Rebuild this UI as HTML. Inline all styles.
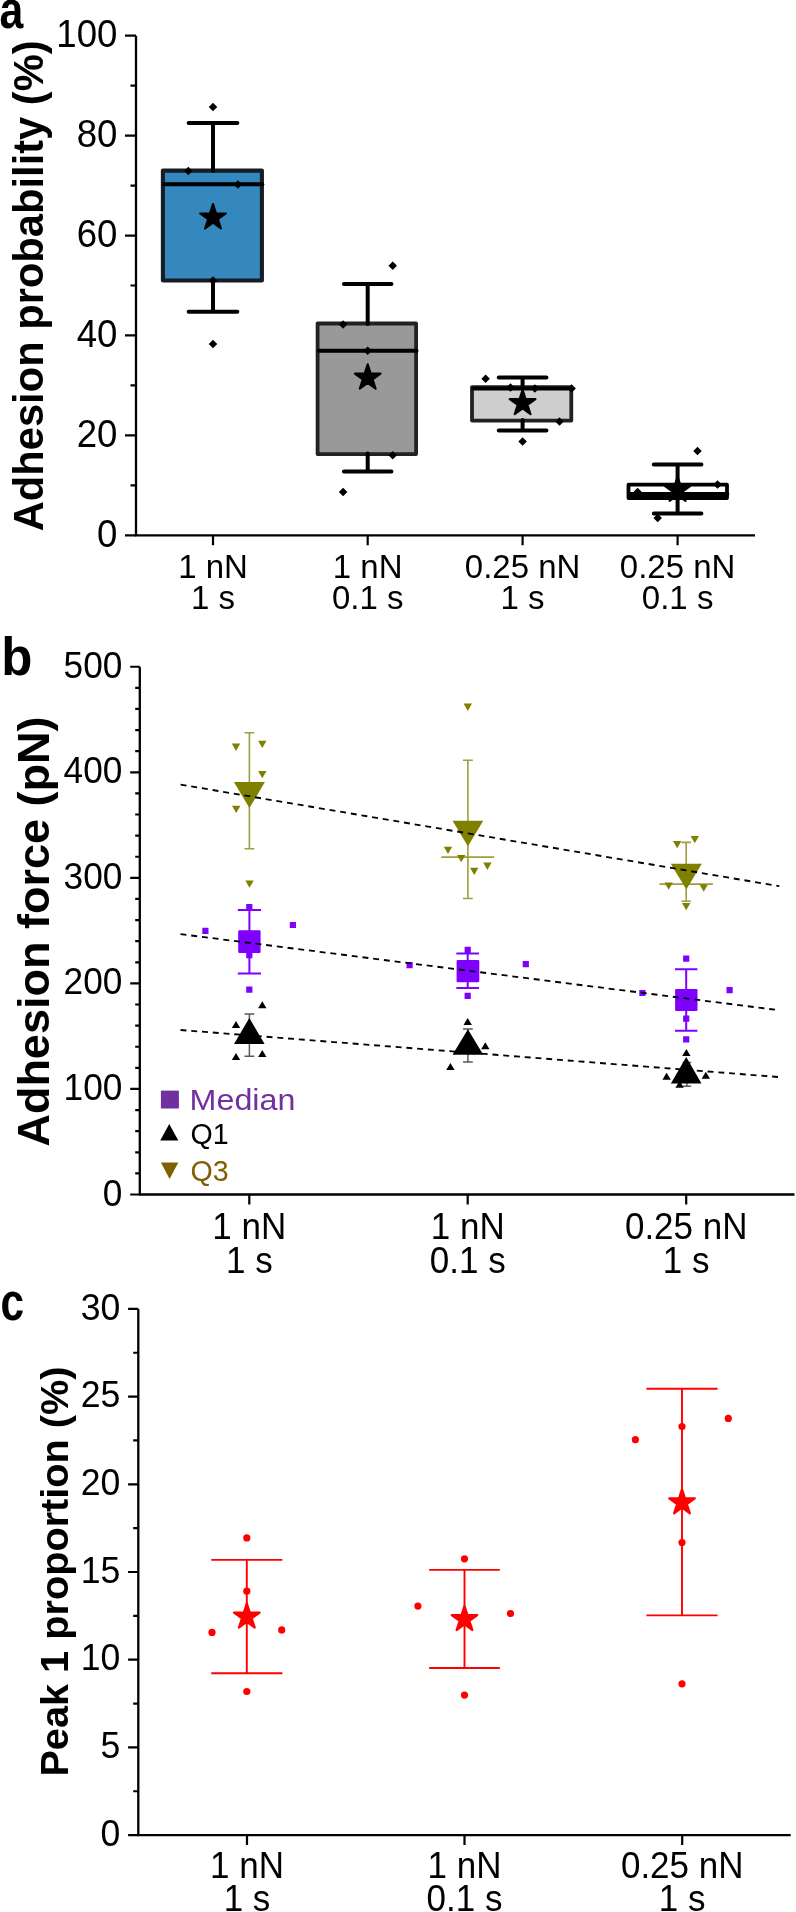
<!DOCTYPE html><html><head><meta charset="utf-8"><style>html,body{margin:0;padding:0;background:#fff;}svg{display:block;will-change:transform;}text{font-family:"Liberation Sans",sans-serif;}</style></head><body>
<svg width="796" height="1912" viewBox="0 0 796 1912">
<rect width="796" height="1912" fill="#fff"/>
<g id="pa">
<path d="M136.0,35.70V535.30H755" fill="none" stroke="#000" stroke-width="2.3"/>
<path d="M125,535.30H136.0M125,435.38H136.0M125,335.46H136.0M125,235.54H136.0M125,135.62H136.0M125,35.70H136.0M130.5,485.34H136.0M130.5,385.42H136.0M130.5,285.50H136.0M130.5,185.58H136.0M130.5,85.66H136.0M213.0,535.30V545.3M367.7,535.30V545.3M522.6,535.30V545.3M677.6,535.30V545.3" stroke="#000" stroke-width="2.2" fill="none"/>
<text transform="translate(117.4,546.60) scale(1,1.04)" font-size="36.6" text-anchor="end">0</text>
<text transform="translate(117.4,446.68) scale(1,1.04)" font-size="36.6" text-anchor="end">20</text>
<text transform="translate(117.4,346.76) scale(1,1.04)" font-size="36.6" text-anchor="end">40</text>
<text transform="translate(117.4,246.84) scale(1,1.04)" font-size="36.6" text-anchor="end">60</text>
<text transform="translate(117.4,146.92) scale(1,1.04)" font-size="36.6" text-anchor="end">80</text>
<text transform="translate(117.4,47.00) scale(1,1.04)" font-size="36.6" text-anchor="end">100</text>
<text transform="translate(213.0,577.6) scale(1,1.035)" font-size="33" text-anchor="middle">1 nN</text>
<text transform="translate(213.0,608.9) scale(1,1.035)" font-size="33" text-anchor="middle">1 s</text>
<text transform="translate(367.7,577.6) scale(1,1.035)" font-size="33" text-anchor="middle">1 nN</text>
<text transform="translate(367.7,608.9) scale(1,1.035)" font-size="33" text-anchor="middle">0.1 s</text>
<text transform="translate(522.6,577.6) scale(1,1.035)" font-size="33" text-anchor="middle">0.25 nN</text>
<text transform="translate(522.6,608.9) scale(1,1.035)" font-size="33" text-anchor="middle">1 s</text>
<text transform="translate(677.6,577.6) scale(1,1.035)" font-size="33" text-anchor="middle">0.25 nN</text>
<text transform="translate(677.6,608.9) scale(1,1.035)" font-size="33" text-anchor="middle">0.1 s</text>
<text transform="translate(42.8,531.3) rotate(-90)" font-size="41.7" font-weight="bold">Adhesion probability (%)</text>
<text transform="translate(-0.6,28.4) scale(0.93,1.16)" font-size="46" font-weight="bold">a</text>
<rect x="162.9" y="170.6" width="98.99999999999997" height="109.9" fill="#3488BE" stroke="#161d24" stroke-width="4.1" stroke-linejoin="round"/><path d="M213.0,123.1V171.1M213.0,280.0V311.7M188.65,123.1H237.35M188.65,311.7H237.35" stroke="#000" stroke-width="4" stroke-linecap="round" fill="none"/><path d="M164.3,184.3H262.29999999999995" stroke="#000" stroke-width="4" stroke-linecap="round"/><polygon points="213.00,204.10 216.03,213.43 225.84,213.43 217.90,219.19 220.94,228.52 213.00,222.76 205.06,228.52 208.10,219.19 200.16,213.43 209.97,213.43" fill="#000" stroke="#000" stroke-width="2.1" stroke-linejoin="round"/><path d="M213.00,102.65L217.25,106.90L213.00,111.15L208.75,106.90ZM188.30,166.85L192.55,171.10L188.30,175.35L184.05,171.10ZM237.90,180.35L242.15,184.60L237.90,188.85L233.65,184.60ZM213.00,276.25L217.25,280.50L213.00,284.75L208.75,280.50ZM213.00,339.65L217.25,343.90L213.00,348.15L208.75,343.90Z" fill="#000"/>
<rect x="317.6" y="323.5" width="98.5" height="130.60000000000002" fill="#999999" stroke="#222" stroke-width="3.8" stroke-linejoin="round"/><path d="M367.7,283.9V324.0M367.7,453.6V471.5M343.95,283.9H391.45M343.95,471.5H391.45" stroke="#000" stroke-width="4" stroke-linecap="round" fill="none"/><path d="M319.0,350.8H416.5" stroke="#000" stroke-width="4" stroke-linecap="round"/><polygon points="367.70,364.30 370.73,373.63 380.54,373.63 372.60,379.39 375.64,388.72 367.70,382.96 359.76,388.72 362.80,379.39 354.86,373.63 364.67,373.63" fill="#000" stroke="#000" stroke-width="2.1" stroke-linejoin="round"/><path d="M392.70,261.55L396.95,265.80L392.70,270.05L388.45,265.80ZM343.10,320.15L347.35,324.40L343.10,328.65L338.85,324.40ZM367.70,346.55L371.95,350.80L367.70,355.05L363.45,350.80ZM392.70,451.05L396.95,455.30L392.70,459.55L388.45,455.30ZM343.10,487.65L347.35,491.90L343.10,496.15L338.85,491.90Z" fill="#000"/>
<rect x="472.0" y="387.1" width="99.29999999999995" height="33.5" fill="#CECECE" stroke="#222" stroke-width="3.8" stroke-linejoin="round"/><path d="M522.6,377.6V387.6M522.6,420.1V430.4M498.75,377.6H546.45M498.75,430.4H546.45" stroke="#000" stroke-width="4" stroke-linecap="round" fill="none"/><path d="M473.4,388.6H571.6999999999999" stroke="#000" stroke-width="4" stroke-linecap="round"/><polygon points="522.60,389.80 525.63,399.13 535.44,399.13 527.50,404.89 530.54,414.22 522.60,408.46 514.66,414.22 517.70,404.89 509.76,399.13 519.57,399.13" fill="#000" stroke="#000" stroke-width="2.1" stroke-linejoin="round"/><path d="M485.60,374.55L489.85,378.80L485.60,383.05L481.35,378.80ZM510.50,383.35L514.75,387.60L510.50,391.85L506.25,387.60ZM534.90,384.35L539.15,388.60L534.90,392.85L530.65,388.60ZM571.60,384.35L575.85,388.60L571.60,392.85L567.35,388.60ZM559.50,417.25L563.75,421.50L559.50,425.75L555.25,421.50ZM522.60,437.15L526.85,441.40L522.60,445.65L518.35,441.40Z" fill="#000"/>
<rect x="628.5" y="484.7" width="98.5" height="13.300000000000011" fill="#FFFFFF" stroke="#000" stroke-width="3.8" stroke-linejoin="round"/><path d="M677.6,464.6V485.2M677.6,497.5V513.4M653.8000000000001,464.6H701.4M653.8000000000001,513.4H701.4" stroke="#000" stroke-width="4" stroke-linecap="round" fill="none"/><path d="M629.9,494.0H727.4" stroke="#000" stroke-width="4" stroke-linecap="round"/><polygon points="677.60,476.50 680.63,485.83 690.44,485.83 682.50,491.59 685.54,500.92 677.60,495.16 669.66,500.92 672.70,491.59 664.76,485.83 674.57,485.83" fill="#000" stroke="#000" stroke-width="2.1" stroke-linejoin="round"/><path d="M697.50,446.75L701.75,451.00L697.50,455.25L693.25,451.00ZM717.50,480.25L721.75,484.50L717.50,488.75L713.25,484.50ZM637.60,487.75L641.85,492.00L637.60,496.25L633.35,492.00ZM657.70,513.85L661.95,518.10L657.70,522.35L653.45,518.10Z" fill="#000"/>
</g>
<g id="pb">
<path d="M139.8,666.75V1194.50H794.5" fill="none" stroke="#000" stroke-width="2.3"/>
<path d="M130.2,1194.50H139.8M130.2,1088.95H139.8M130.2,983.40H139.8M130.2,877.85H139.8M130.2,772.30H139.8M130.2,666.75H139.8M135.2,1173.39H139.8M135.2,1152.28H139.8M135.2,1131.17H139.8M135.2,1110.06H139.8M135.2,1067.84H139.8M135.2,1046.73H139.8M135.2,1025.62H139.8M135.2,1004.51H139.8M135.2,962.29H139.8M135.2,941.18H139.8M135.2,920.07H139.8M135.2,898.96H139.8M135.2,856.74H139.8M135.2,835.63H139.8M135.2,814.52H139.8M135.2,793.41H139.8M135.2,751.19H139.8M135.2,730.08H139.8M135.2,708.97H139.8M135.2,687.86H139.8M249.3,1194.50V1204.5M467.7,1194.50V1204.5M686.2,1194.50V1204.5" stroke="#000" stroke-width="2.2" fill="none"/>
<text transform="translate(122.3,1205.50) scale(1,1.06)" font-size="35.2" text-anchor="end">0</text>
<text transform="translate(122.3,1099.95) scale(1,1.06)" font-size="35.2" text-anchor="end">100</text>
<text transform="translate(122.3,994.40) scale(1,1.06)" font-size="35.2" text-anchor="end">200</text>
<text transform="translate(122.3,888.85) scale(1,1.06)" font-size="35.2" text-anchor="end">300</text>
<text transform="translate(122.3,783.30) scale(1,1.06)" font-size="35.2" text-anchor="end">400</text>
<text transform="translate(122.3,677.75) scale(1,1.06)" font-size="35.2" text-anchor="end">500</text>
<text transform="translate(249.3,1239.4) scale(1,1.045)" font-size="35" text-anchor="middle">1 nN</text>
<text transform="translate(249.3,1273.0) scale(1,1.045)" font-size="35" text-anchor="middle">1 s</text>
<text transform="translate(467.7,1239.4) scale(1,1.045)" font-size="35" text-anchor="middle">1 nN</text>
<text transform="translate(467.7,1273.0) scale(1,1.045)" font-size="35" text-anchor="middle">0.1 s</text>
<text transform="translate(686.2,1239.4) scale(1,1.045)" font-size="35" text-anchor="middle">0.25 nN</text>
<text transform="translate(686.2,1273.0) scale(1,1.045)" font-size="35" text-anchor="middle">1 s</text>
<text transform="translate(49.4,1146.6) rotate(-90)" font-size="45" font-weight="bold">Adhesion force (pN)</text>
<text transform="translate(1.3,675.3) scale(1.02,1.09)" font-size="50" font-weight="bold">b</text>
<path d="M249.4,732.8V848.7M244.5,732.8H254.3M244.5,848.7H254.3" stroke="#9C9E40" stroke-width="1.6" fill="none"/>
<path d="M233.90,782.10L264.90,782.10L249.40,808.10Z" fill="#808000"/>
<path d="M231.80,743.60L240.20,743.60L236.00,750.90ZM258.10,740.70L266.50,740.70L262.30,748.00ZM258.10,770.90L266.50,770.90L262.30,778.20ZM232.00,805.80L240.40,805.80L236.20,813.10ZM245.30,880.40L253.70,880.40L249.50,887.70Z" fill="#808000"/>
<path d="M249.4,910.0V973.6M237.8,910.0H261.0M237.8,973.6H261.0" stroke="#8000FF" stroke-width="2.0" fill="none"/>
<rect x="238.2" y="930.3" width="22.4" height="22.6" rx="1.2" fill="#8000FF"/>
<path d="M246.20,904.00h6.2v6.2h-6.2ZM246.20,952.10h6.2v6.2h-6.2ZM202.30,927.70h6.2v6.2h-6.2ZM289.80,921.90h6.2v6.2h-6.2ZM246.20,986.50h6.2v6.2h-6.2Z" fill="#8000FF"/>
<path d="M249.4,1013.9V1056.3M244.5,1013.9H254.3M244.5,1056.3H254.3" stroke="#5a5a5a" stroke-width="1.5" fill="none"/>
<path d="M249.30,1017.90L264.60,1044.10L234.00,1044.10Z" fill="#000"/>
<path d="M262.30,1001.30L266.50,1008.30L258.10,1008.30ZM236.00,1021.10L240.20,1028.10L231.80,1028.10ZM262.30,1049.90L266.50,1056.90L258.10,1056.90ZM236.00,1053.10L240.20,1060.10L231.80,1060.10Z" fill="#000"/>
<path d="M467.9,760.3V898.5M463.0,760.3H472.79999999999995M463.0,898.5H472.79999999999995" stroke="#9C9E40" stroke-width="1.6" fill="none"/>
<path d="M441.3,857.1H494.2" stroke="#9C9E40" stroke-width="1.6"/>
<path d="M452.55,820.70L483.25,820.70L467.90,846.20Z" fill="#808000"/>
<path d="M463.60,703.60L472.00,703.60L467.80,710.90ZM443.80,846.70L452.20,846.70L448.00,854.00ZM457.00,855.00L465.40,855.00L461.20,862.30ZM470.00,867.80L478.40,867.80L474.20,875.10ZM483.20,862.60L491.60,862.60L487.40,869.90Z" fill="#808000"/>
<path d="M467.7,953.5V988.1M456.34999999999997,953.5H479.05M456.34999999999997,988.1H479.05" stroke="#8000FF" stroke-width="2.0" fill="none"/>
<rect x="456.6" y="959.9" width="22.7" height="22.4" rx="1.2" fill="#8000FF"/>
<path d="M464.60,946.80h6.2v6.2h-6.2ZM464.60,992.70h6.2v6.2h-6.2ZM406.50,962.10h6.2v6.2h-6.2ZM522.70,961.10h6.2v6.2h-6.2Z" fill="#8000FF"/>
<path d="M467.9,1028.9V1061.9M463.0,1028.9H472.79999999999995M463.0,1061.9H472.79999999999995" stroke="#5a5a5a" stroke-width="1.5" fill="none"/>
<path d="M467.90,1029.30L483.25,1054.70L452.55,1054.70Z" fill="#000"/>
<path d="M467.70,1018.00L471.90,1025.00L463.50,1025.00ZM485.30,1042.20L489.50,1049.20L481.10,1049.20ZM450.40,1063.00L454.60,1070.00L446.20,1070.00Z" fill="#000"/>
<path d="M686.2,842.4V901.2M681.45,842.4H690.95M681.45,901.2H690.95" stroke="#9C9E40" stroke-width="1.6" fill="none"/>
<path d="M659.5,884.1H712.9" stroke="#9C9E40" stroke-width="1.6"/>
<path d="M670.80,863.80L701.80,863.80L686.30,889.40Z" fill="#808000"/>
<path d="M673.00,840.90L681.40,840.90L677.20,848.20ZM690.60,836.00L699.00,836.00L694.80,843.30ZM664.50,882.40L672.90,882.40L668.70,889.70ZM699.50,884.50L707.90,884.50L703.70,891.80ZM682.00,902.90L690.40,902.90L686.20,910.20Z" fill="#808000"/>
<path d="M686.2,969.3V1030.8M675.0,969.3H697.4000000000001M675.0,1030.8H697.4000000000001" stroke="#8000FF" stroke-width="2.0" fill="none"/>
<rect x="675.1" y="989.1" width="22.4" height="21.8" rx="1.2" fill="#8000FF"/>
<path d="M683.10,955.50h6.2v6.2h-6.2ZM683.10,1015.50h6.2v6.2h-6.2ZM683.10,1036.20h6.2v6.2h-6.2ZM639.30,989.90h6.2v6.2h-6.2ZM726.50,987.10h6.2v6.2h-6.2Z" fill="#8000FF"/>
<path d="M686.9,1062.6V1086.2M682.65,1062.6H691.15M682.65,1086.2H691.15" stroke="#5a5a5a" stroke-width="1.5" fill="none"/>
<path d="M686.20,1057.10L701.50,1083.40L670.90,1083.40Z" fill="#000"/>
<path d="M686.40,1049.00L690.60,1056.00L682.20,1056.00ZM666.60,1072.70L670.80,1079.70L662.40,1079.70ZM705.80,1071.70L710.00,1078.70L701.60,1078.70ZM679.60,1080.80L683.80,1087.80L675.40,1087.80Z" fill="#000"/>
<path d="M180.6,784.6L779.3,886.2" stroke="#000" stroke-width="1.85" stroke-dasharray="5.95 4.84" fill="none"/>
<path d="M180.5,934.1L775.0,1009.7" stroke="#000" stroke-width="1.85" stroke-dasharray="5.95 4.84" fill="none"/>
<path d="M180.5,1030.0L778.0,1077.0" stroke="#000" stroke-width="1.85" stroke-dasharray="5.95 4.84" fill="none"/>
<rect x="160.9" y="1090.6" width="18" height="17.9" fill="#7030A0"/>
<text x="189.6" y="1109.8" font-size="28.8" fill="#7030A0" textLength="105.8" lengthAdjust="spacingAndGlyphs">Median</text>
<path d="M169.25,1124.10L178.30,1140.60L160.20,1140.60Z" fill="#000"/>
<text x="190.5" y="1144.4" font-size="28.6" fill="#000">Q1</text>
<path d="M160.90,1162.50L178.30,1162.50L169.60,1179.00Z" fill="#7F6000"/>
<text x="190.5" y="1180.6" font-size="28.6" fill="#7F6000">Q3</text>
</g>
<g id="pc">
<path d="M138.3,1308.90V1835.10H790.7" fill="none" stroke="#000" stroke-width="2.3"/>
<path d="M128.1,1835.10H138.3M128.1,1747.40H138.3M128.1,1659.70H138.3M128.1,1572.00H138.3M128.1,1484.30H138.3M128.1,1396.60H138.3M128.1,1308.90H138.3M133.2,1791.25H138.3M133.2,1703.55H138.3M133.2,1615.85H138.3M133.2,1528.15H138.3M133.2,1440.45H138.3M133.2,1352.75H138.3M247.0,1835.10V1845M464.5,1835.10V1845M682.2,1835.10V1845" stroke="#000" stroke-width="2.2" fill="none"/>
<text transform="translate(120.4,1845.70) scale(1,1.04)" font-size="35.6" text-anchor="end">0</text>
<text transform="translate(120.4,1758.00) scale(1,1.04)" font-size="35.6" text-anchor="end">5</text>
<text transform="translate(120.4,1670.30) scale(1,1.04)" font-size="35.6" text-anchor="end">10</text>
<text transform="translate(120.4,1582.60) scale(1,1.04)" font-size="35.6" text-anchor="end">15</text>
<text transform="translate(120.4,1494.90) scale(1,1.04)" font-size="35.6" text-anchor="end">20</text>
<text transform="translate(120.4,1407.20) scale(1,1.04)" font-size="35.6" text-anchor="end">25</text>
<text transform="translate(120.4,1319.50) scale(1,1.04)" font-size="35.6" text-anchor="end">30</text>
<text transform="translate(247.0,1877.8) scale(1,1.045)" font-size="35" text-anchor="middle">1 nN</text>
<text transform="translate(247.0,1911.0) scale(1,1.045)" font-size="35" text-anchor="middle">1 s</text>
<text transform="translate(464.5,1877.8) scale(1,1.045)" font-size="35" text-anchor="middle">1 nN</text>
<text transform="translate(464.5,1911.0) scale(1,1.045)" font-size="35" text-anchor="middle">0.1 s</text>
<text transform="translate(682.2,1877.8) scale(1,1.045)" font-size="35" text-anchor="middle">0.25 nN</text>
<text transform="translate(682.2,1911.0) scale(1,1.045)" font-size="35" text-anchor="middle">1 s</text>
<text transform="translate(68,1776.6) rotate(-90)" font-size="39.7" font-weight="bold">Peak 1 proportion (%)</text>
<text transform="translate(0.5,1319.6) scale(0.92,1.16)" font-size="46" font-weight="bold">c</text>
<path d="M246.8,1559.9V1673.3M211.25,1559.9H282.35M211.25,1673.3H282.35" stroke="#FF0000" stroke-width="1.9" fill="none"/><polygon points="246.80,1603.20 249.83,1612.53 259.64,1612.53 251.70,1618.29 254.74,1627.62 246.80,1621.86 238.86,1627.62 241.90,1618.29 233.96,1612.53 243.77,1612.53" fill="#FF0000" stroke="#FF0000" stroke-width="2.1" stroke-linejoin="round"/><circle cx="246.8" cy="1537.9" r="3.6" fill="#FF0000"/><circle cx="246.8" cy="1591.2" r="3.6" fill="#FF0000"/><circle cx="212" cy="1632.4" r="3.6" fill="#FF0000"/><circle cx="281.7" cy="1629.9" r="3.6" fill="#FF0000"/><circle cx="246.8" cy="1691.5" r="3.6" fill="#FF0000"/>
<path d="M464.5,1569.9V1668.0M429.15,1569.9H499.85M429.15,1668.0H499.85" stroke="#FF0000" stroke-width="1.9" fill="none"/><polygon points="464.50,1605.70 467.53,1615.03 477.34,1615.03 469.40,1620.79 472.44,1630.12 464.50,1624.36 456.56,1630.12 459.60,1620.79 451.66,1615.03 461.47,1615.03" fill="#FF0000" stroke="#FF0000" stroke-width="2.1" stroke-linejoin="round"/><circle cx="464.5" cy="1558.8" r="3.6" fill="#FF0000"/><circle cx="417.9" cy="1606.1" r="3.6" fill="#FF0000"/><circle cx="510.5" cy="1613.5" r="3.6" fill="#FF0000"/><circle cx="464.5" cy="1695.1" r="3.6" fill="#FF0000"/>
<path d="M682.0,1388.8V1615.4M646.45,1388.8H717.55M646.45,1615.4H717.55" stroke="#FF0000" stroke-width="1.9" fill="none"/><polygon points="682.00,1489.00 685.03,1498.33 694.84,1498.33 686.90,1504.09 689.94,1513.42 682.00,1507.66 674.06,1513.42 677.10,1504.09 669.16,1498.33 678.97,1498.33" fill="#FF0000" stroke="#FF0000" stroke-width="2.1" stroke-linejoin="round"/><circle cx="682" cy="1426.5" r="3.6" fill="#FF0000"/><circle cx="635.4" cy="1439.7" r="3.6" fill="#FF0000"/><circle cx="728.3" cy="1418.4" r="3.6" fill="#FF0000"/><circle cx="682" cy="1542.6" r="3.6" fill="#FF0000"/><circle cx="682" cy="1683.8" r="3.6" fill="#FF0000"/>
</g>
</svg></body></html>
